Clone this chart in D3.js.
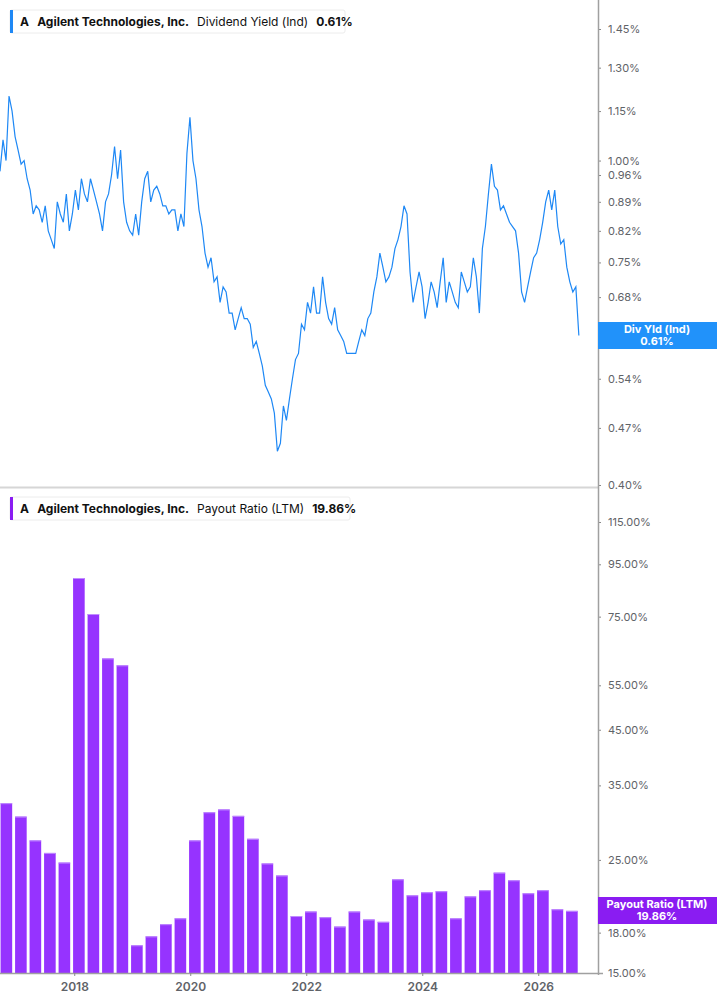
<!DOCTYPE html>
<html><head><meta charset="utf-8">
<script src="https://cdn.jsdelivr.net/npm/d3@7"></script>
<style>body{margin:0;background:#fff;font-family:Inter,"Open Sans",sans-serif;}</style>
</head><body><svg id="c" width="717" height="1005"></svg>
<script>
const yieldValues=[0.97,1.06,1.00,1.20,1.15,1.07,1.03,0.99,1.00,0.95,0.92,0.86,0.88,0.87,0.84,0.88,0.82,0.80,0.78,0.89,0.86,0.84,0.91,0.82,0.86,0.92,0.87,0.95,0.91,0.89,0.95,0.92,0.89,0.86,0.82,0.89,0.91,0.96,1.04,0.95,1.03,0.89,0.84,0.82,0.81,0.86,0.81,0.89,0.95,0.97,0.89,0.92,0.93,0.91,0.88,0.88,0.86,0.87,0.87,0.82,0.86,0.83,1.02,1.13,1.00,0.95,0.87,0.83,0.77,0.74,0.76,0.71,0.72,0.67,0.70,0.69,0.65,0.65,0.62,0.64,0.66,0.64,0.64,0.63,0.59,0.60,0.58,0.56,0.53,0.52,0.51,0.49,0.44,0.45,0.50,0.48,0.51,0.54,0.57,0.58,0.63,0.62,0.67,0.65,0.70,0.65,0.65,0.72,0.67,0.64,0.63,0.66,0.62,0.61,0.60,0.58,0.58,0.58,0.58,0.60,0.62,0.61,0.64,0.65,0.69,0.72,0.77,0.74,0.71,0.72,0.74,0.78,0.80,0.83,0.88,0.86,0.73,0.67,0.70,0.73,0.70,0.64,0.67,0.71,0.69,0.66,0.71,0.76,0.67,0.71,0.69,0.67,0.66,0.73,0.71,0.69,0.70,0.76,0.72,0.65,0.78,0.83,0.91,0.99,0.93,0.92,0.87,0.88,0.86,0.84,0.83,0.82,0.77,0.69,0.67,0.70,0.73,0.76,0.77,0.80,0.84,0.89,0.92,0.87,0.92,0.83,0.79,0.80,0.74,0.71,0.69,0.70,0.61];
const yieldStart=2016.72, yieldEnd=2026.70;
const payoutValues=[32.3,30.4,27.3,25.8,24.7,89.3,75.9,62.1,60.2,17.0,17.7,18.7,19.2,27.3,31.0,31.4,30.5,27.5,24.6,23.3,19.4,19.8,19.3,18.5,19.8,19.1,18.9,22.9,21.3,21.6,21.7,19.2,21.2,21.8,23.6,22.8,21.5,21.8,20.0,19.86];
const payoutStart=2016.83; // first quarter bar centre (decimal year)
const yieldTicks=[1.45,1.30,1.15,1.00,0.96,0.89,0.82,0.75,0.68,0.61,0.54,0.47,0.40];
const payoutTicks=[115,95,75,55,45,35,25,18,15];
const yearTicks=[2018,2020,2022,2024,2026];

const svg=d3.select("#c");
const AX=598, W=717;
const x=d3.scaleLinear().domain([2016.72,2027.03]).range([0,AX]);
const yTop=d3.scaleLog().domain([0.40,1.45]).range([485,29]);
const yBot=d3.scaleLog().domain([15,115]).range([973,522]);
const grey="#5f6368";

// separator
svg.append("line").attr("x1",0).attr("x2",AX).attr("y1",487.5).attr("y2",487.5).attr("stroke","#d6d6d6").attr("stroke-width",2);

// line
const n=yieldValues.length;
const yd=yieldValues.map((v,i)=>({t:yieldStart+i*(yieldEnd-yieldStart)/(n-1),v}));
svg.append("path").datum(yd).attr("fill","none").attr("stroke","#1e88f5").attr("stroke-width",1.2)
 .attr("d",d3.line().x(d=>x(d.t)).y(d=>yTop(d.v)));

// bars
const q=0.25, bw=x(2016.72+0.2)-x(2016.72);
svg.selectAll("rect.bar").data(payoutValues).join("rect").attr("class","bar")
 .attr("x",(d,i)=>x(payoutStart+i*q)-bw/2).attr("width",bw)
 .attr("y",d=>yBot(d)).attr("height",d=>973-yBot(d)).attr("fill","#9633ff");
svg.selectAll("line.cap").data(payoutValues).join("line").attr("class","cap")
 .attr("x1",(d,i)=>x(payoutStart+i*q)-bw/2).attr("x2",(d,i)=>x(payoutStart+i*q)+bw/2)
 .attr("y1",d=>yBot(d)+0.5).attr("y2",d=>yBot(d)+0.5).attr("stroke","#c08cff").attr("stroke-width",1);

// axes
function rightAxis(scale,ticks,fmt){
  const g=svg.append("g").attr("transform",`translate(${AX},0)`)
   .call(d3.axisRight(scale).tickValues(ticks).tickFormat(fmt).tickSize(3).tickPadding(7));
  g.select(".domain").remove();
  g.selectAll("line").attr("stroke","#888");
  g.selectAll("text").attr("fill",grey).attr("font-size",11).attr("font-family","Inter,sans-serif");
}
rightAxis(yTop,yieldTicks,d=>d.toFixed(2)+"%");
rightAxis(yBot,payoutTicks,d=>d.toFixed(2)+"%");
svg.append("line").attr("x1",AX+0.5).attr("x2",AX+0.5).attr("y1",0).attr("y2",975).attr("stroke","#a0a0a0").attr("stroke-width",1.5);
const xg=svg.append("g").attr("transform","translate(0,973)")
 .call(d3.axisBottom(x).tickValues(yearTicks).tickFormat(d3.format("d")).tickSize(3).tickPadding(6));
xg.select(".domain").attr("d",`M0,0.5H${AX+5}`).attr("stroke","#a0a0a0").attr("stroke-width",1.5);
xg.selectAll("line").attr("stroke","#888");
xg.selectAll("text").attr("fill",grey).attr("font-size",12).attr("font-weight",600).attr("font-family","Inter,sans-serif");

// legends
function legend(y,color,parts,w){
  const g=svg.append("g").attr("transform",`translate(10,${y})`);
  g.append("rect").attr("width",w).attr("height",23).attr("rx",2).attr("fill","#fff").attr("stroke","#ececec");
  g.append("rect").attr("width",3).attr("height",23).attr("fill",color);
  const t=g.append("text").attr("x",10).attr("y",16).attr("font-size",12).attr("fill","#111").attr("font-family","Inter,sans-serif");
  parts.forEach(p=>t.append("tspan").attr("dx",p[2]||0).attr("font-weight",p[1]?700:400).text(p[0]));
}
legend(10,"#1e88f5",[["A",1],["Agilent Technologies, Inc.",1,8],["Dividend Yield (Ind)",0,8],["0.61%",1,8]],335);
legend(497,"#8a1cf2",[["A",1],["Agilent Technologies, Inc.",1,8],["Payout Ratio (LTM)",0,8],["19.86%",1,8]],340);

// badges
function badge(y,color,l1,l2){
  svg.append("rect").attr("x",AX).attr("y",y).attr("width",W-AX).attr("height",27).attr("fill",color);
  svg.append("text").attr("x",AX+59).attr("y",y+11).attr("text-anchor","middle").attr("fill","#fff").attr("font-size",11).attr("font-weight",700).attr("font-family","Inter,sans-serif").text(l1);
  svg.append("text").attr("x",AX+59).attr("y",y+23).attr("text-anchor","middle").attr("fill","#fff").attr("font-size",11).attr("font-weight",700).attr("font-family","Inter,sans-serif").text(l2);
}
badge(322,"#2192fa","Div Yld (Ind)","0.61%");
badge(897,"#8a1cf2","Payout Ratio (LTM)","19.86%");
</script></body></html>
